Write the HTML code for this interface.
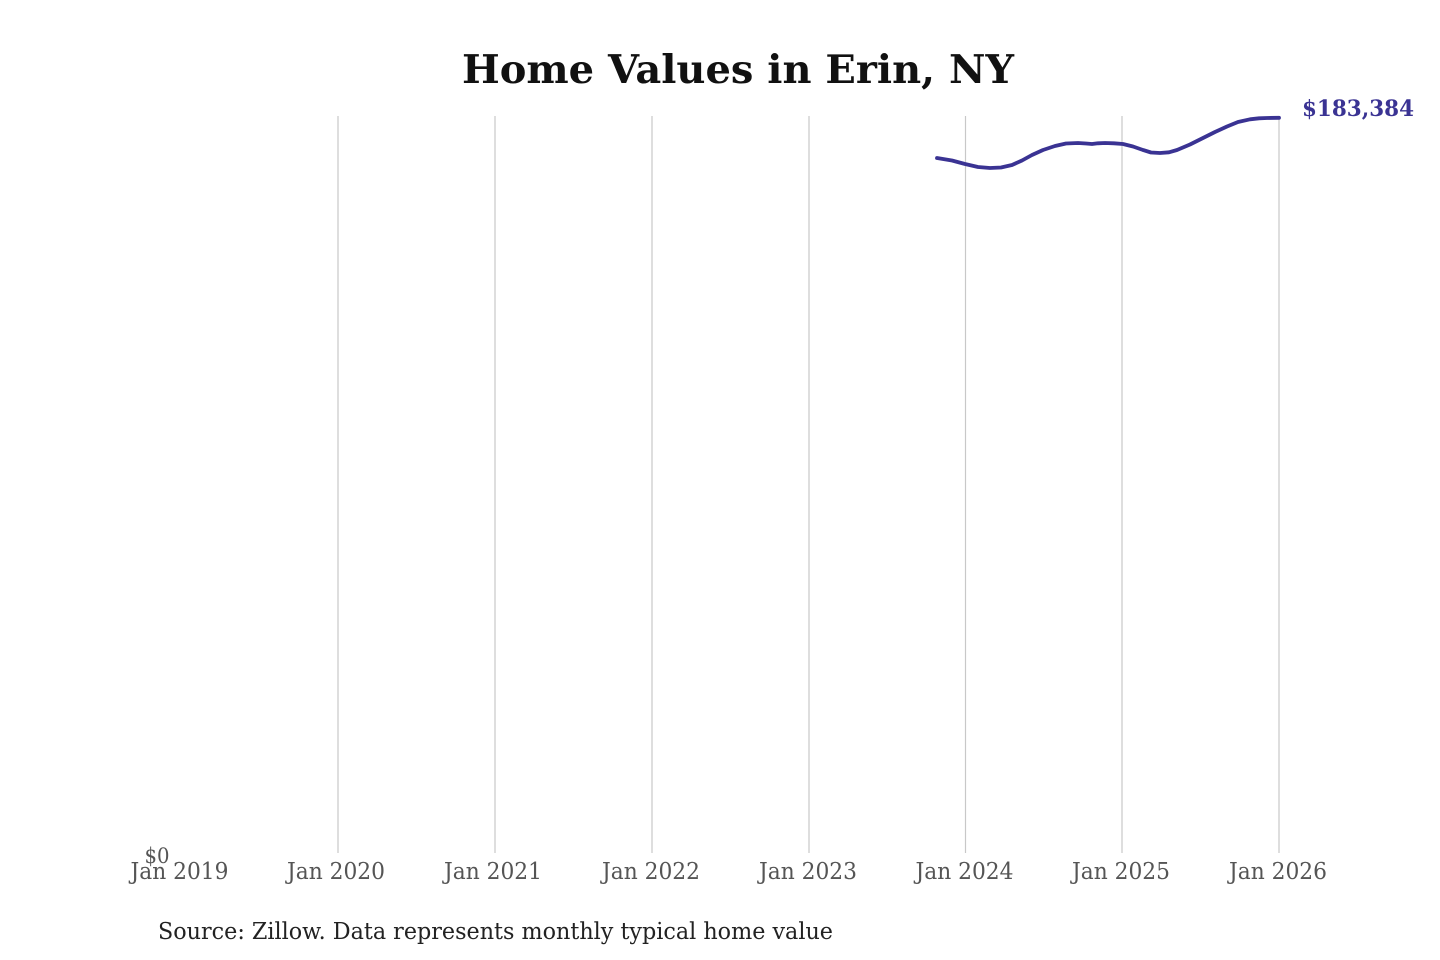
<!DOCTYPE html>
<html>
<head>
<meta charset="utf-8">
<style>
  html, body { margin:0; padding:0; background:#fff; }
  svg { display:block; }
  text { font-family: "DejaVu Serif", "Liberation Serif", serif; }
</style>
</head>
<body>
<svg width="1440" height="960" viewBox="0 0 1440 960" xmlns="http://www.w3.org/2000/svg">
  <rect width="1440" height="960" fill="#fff"/>
  <text x="738" y="83" text-anchor="middle" font-size="39" font-weight="bold" fill="#111" textLength="552" lengthAdjust="spacingAndGlyphs">Home Values in Erin, NY</text>

  <g stroke="#c8c8c8" stroke-width="1.2">
    <line x1="338" y1="116" x2="338" y2="853"/>
    <line x1="495" y1="116" x2="495" y2="853"/>
    <line x1="652" y1="116" x2="652" y2="853"/>
    <line x1="809" y1="116" x2="809" y2="853"/>
    <line x1="965.5" y1="116" x2="965.5" y2="853"/>
    <line x1="1122" y1="116" x2="1122" y2="853"/>
    <line x1="1279" y1="116" x2="1279" y2="853"/>
  </g>

  <polyline fill="none" stroke="#3a3393" stroke-width="3.8" stroke-linejoin="round" stroke-linecap="round"
    points="937,158 952,160.5 965,164 978,167 990,168 1001,167.5 1012,165 1022,160.5 1032,155 1043,150 1055,146 1066,143.5 1078,143 1086,143.5 1092,144 1098,143.3 1105,143 1114,143.3 1123,144 1133,146.5 1143,150 1151,152.5 1160,153 1169,152.3 1177,150 1190,144.5 1203,138 1215,132 1227,126.5 1238,122 1250,119.3 1259,118.3 1267,118 1279,117.8"/>

  <text x="1302" y="116" font-size="22" font-weight="bold" fill="#3a3393" textLength="112" lengthAdjust="spacingAndGlyphs">$183,384</text>

  <text x="157" y="863" text-anchor="middle" font-size="21" fill="#555" textLength="25" lengthAdjust="spacingAndGlyphs">$0</text>

  <g font-size="23" fill="#555" text-anchor="middle">
    <text x="179.5" y="879" textLength="98" lengthAdjust="spacingAndGlyphs">Jan 2019</text>
    <text x="336" y="879" textLength="98" lengthAdjust="spacingAndGlyphs">Jan 2020</text>
    <text x="493" y="879" textLength="98" lengthAdjust="spacingAndGlyphs">Jan 2021</text>
    <text x="651" y="879" textLength="98" lengthAdjust="spacingAndGlyphs">Jan 2022</text>
    <text x="808" y="879" textLength="98" lengthAdjust="spacingAndGlyphs">Jan 2023</text>
    <text x="964.5" y="879" textLength="98" lengthAdjust="spacingAndGlyphs">Jan 2024</text>
    <text x="1121" y="879" textLength="98" lengthAdjust="spacingAndGlyphs">Jan 2025</text>
    <text x="1278" y="879" textLength="98" lengthAdjust="spacingAndGlyphs">Jan 2026</text>
  </g>

  <text x="158" y="939" font-size="23" fill="#222" textLength="675" lengthAdjust="spacingAndGlyphs">Source: Zillow. Data represents monthly typical home value</text>
</svg>
</body>
</html>
